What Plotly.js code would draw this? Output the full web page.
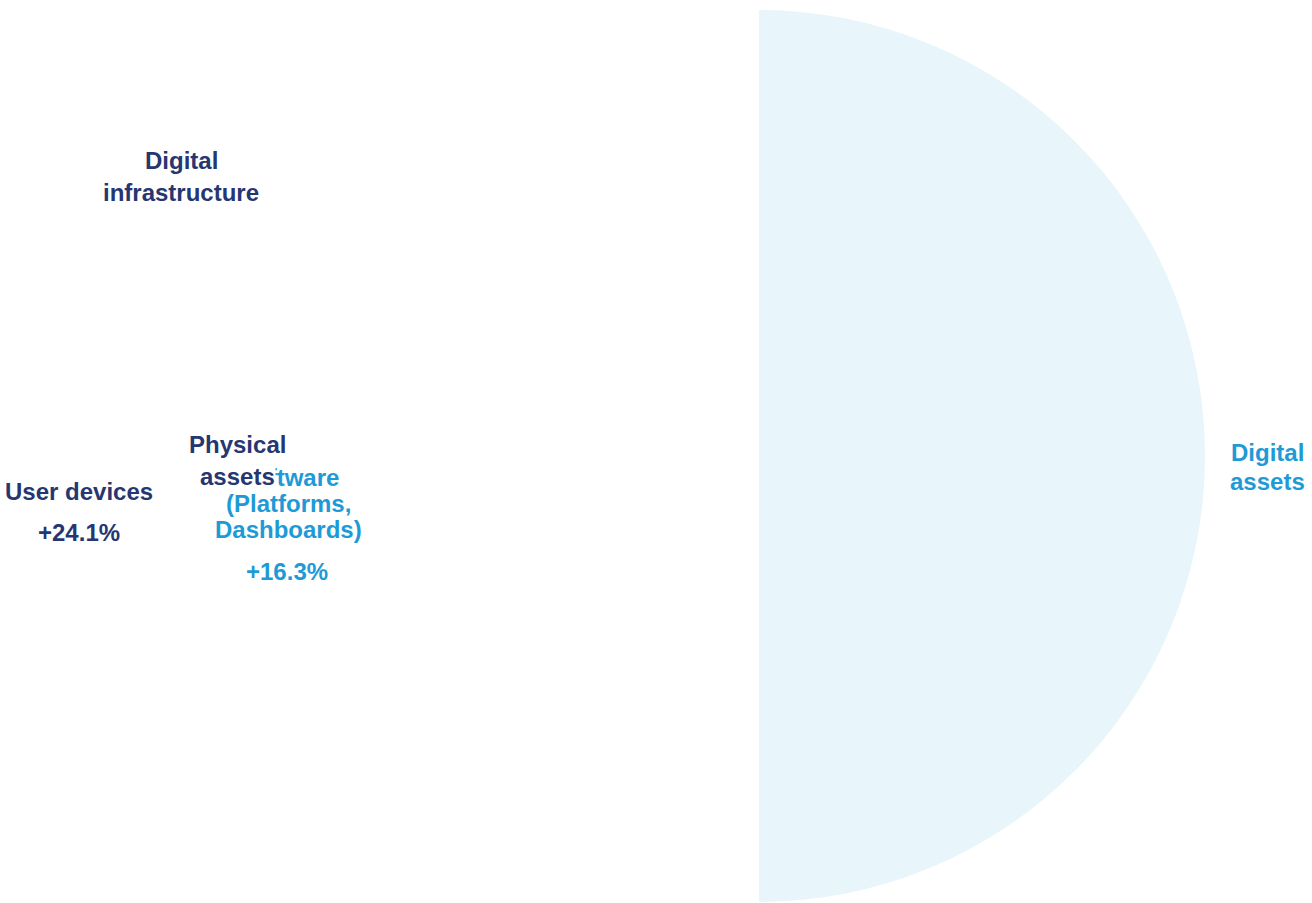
<!DOCTYPE html>
<html>
<head>
<meta charset="utf-8">
<script src="https://cdn.plot.ly/plotly-3.0.1.min.js"></script>
<style>html,body{margin:0;padding:0;background:#fff}#chart{width:1312px;height:903px}</style>
</head>
<body>
<div id="chart"></div>
<script>
// Pie halves
const sliceLabels = ['Digital assets', 'Physical assets'];
const sliceValues = [50, 50];
const sliceColors = ['#e8f5fa', '#ffffff'];

// Category labels (one entry per label, lines split)
const catLines = [
  ['Software', '(Platforms,', 'Dashboards)'],
  ['Digital', 'infrastructure'],
  ['User devices'],
  ['Physical', 'assets'],
  ['Digital', 'assets']
];
const catColors = ['#1e9ad6', '#263671', '#263671', '#263671', '#1e9ad6'];
const catX = [288, 181, 79, 237, 1267];
const catY0 = [477, 160, 491, 444, 453];
const catGap = [26, 32, 0, 32, 28];
const catBg = ['rgba(0,0,0,0)', 'rgba(0,0,0,0)', 'rgba(0,0,0,0)', '#ffffff', 'rgba(0,0,0,0)'];

// Growth labels
const growthText = ['+24.1%', '+16.3%'];
const growthColors = ['#263671', '#1e9ad6'];
const growthX = [79, 287];
const growthY = [532, 571];

const W = 1312, H = 903;
const px = x => x / W, py = y => 1 - y / H;
const FONT = 'Liberation Sans, Arial, sans-serif';

const annotations = [];
catLines.forEach((lines, i) => lines.forEach((t, j) => annotations.push({
  text: t, x: px(catX[i]), y: py(catY0[i] + j * catGap[i]), xref: 'paper', yref: 'paper',
  showarrow: false, xanchor: 'center', yanchor: 'middle', align: 'center',
  bgcolor: catBg[i], borderpad: 0,
  font: {family: FONT, size: 24, color: catColors[i], weight: 'bold'}
})));
growthText.forEach((t, i) => annotations.push({
  text: t, x: px(growthX[i]), y: py(growthY[i]), xref: 'paper', yref: 'paper',
  showarrow: false, xanchor: 'center', yanchor: 'middle',
  font: {family: FONT, size: 24, color: growthColors[i], weight: 'bold'}
}));

const trace = {
  type: 'pie', labels: sliceLabels, values: sliceValues, sort: false,
  direction: 'clockwise', rotation: 0,
  marker: {colors: sliceColors, line: {width: 0}},
  textinfo: 'none', hoverinfo: 'label',
  domain: {x: [313 / W, 1205 / W], y: [1 / H, 893 / H]}
};

Plotly.newPlot('chart', [trace], {
  width: W, height: H, margin: {l: 0, r: 0, t: 0, b: 0},
  paper_bgcolor: '#ffffff', showlegend: false, annotations: annotations
}, {displayModeBar: false, staticPlot: true});
</script>
</body>
</html>
